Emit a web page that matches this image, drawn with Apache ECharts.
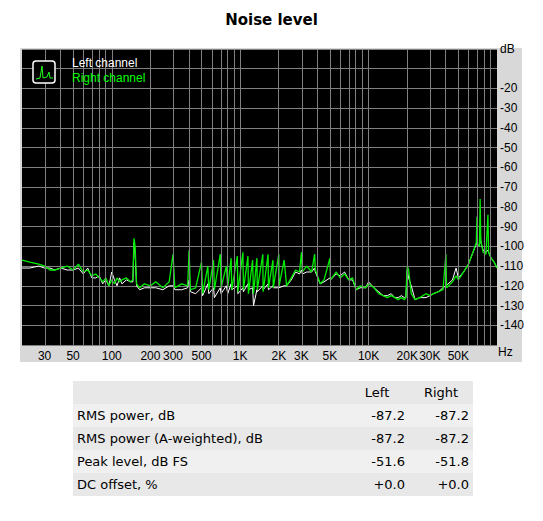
<!DOCTYPE html>
<html>
<head>
<meta charset="utf-8">
<script src="https://cdn.jsdelivr.net/npm/echarts@6/dist/echarts.min.js"></script>
<style>
  body { margin: 0; background: #fff; }
  #chart { position: absolute; left: 0; top: 0; width: 543px; height: 521px; }
  #stats { position: absolute; left: 73px; top: 381px; width: 400px; border-collapse: collapse;
           font-family: "DejaVu Sans", Verdana, sans-serif; font-size: 13px; color: #000; }
  #stats td { height: 23px; padding: 0 4px; }
  #stats td.num { text-align: right; width: 56px; }
  #stats tr:nth-child(odd) { background: #e8e8e8; }
  #stats tr:nth-child(even) { background: #f0f0f0; }
</style>
</head>
<body>
<div id="chart"></div>
<table id="stats"></table>
<script>
var freqs = [20,23,27,30,33,36,40,45,50,55,60,65,70,75,80,85,90,95,100,105,110,115,120,130,140,146,149,152,156,165,180,200,220,250,280,300,310,350,390,400,410,450,500,510,560,570,620,630,700,710,780,800,850,860,950,960,1050,1060,1150,1160,1250,1270,1350,1360,1500,1510,1650,1660,1800,1810,2000,2010,2200,2300,2500,2700,2900,3000,3050,3300,3600,3800,3850,4200,4500,5000,5050,5600,6000,6500,7000,7500,8000,8600,9500,10000,11000,12000,13000,14000,15000,16000,17000,18000,19000,19500,20000,20500,21500,23000,25000,28000,30000,32000,35000,38000,40000,40500,45000,48000,50000,55000,60000,65000,69000,69800,70500,73000,73900,74800,78000,82000,85000,86000,90000,95000,100000];
var rightDb = [-107,-108,-109,-110,-112,-112,-111,-110,-112,-109,-113,-112,-115,-114,-116,-118,-116,-120,-117,-119,-116,-118,-117,-116,-118,-117,-96,-100,-119,-121,-119,-120,-118,-121,-118,-104,-121,-119,-120,-102,-122,-121,-108,-124,-110,-122,-107,-122,-104,-121,-110,-121,-106,-122,-105,-123,-103,-122,-105,-124,-107,-124,-106,-122,-104,-123,-104,-121,-107,-121,-104,-120,-107,-120,-116,-112,-113,-103,-113,-110,-113,-104,-112,-119,-117,-106,-117,-113,-116,-114,-117,-116,-122,-120,-121,-119,-121,-124,-125,-126,-125,-126,-127,-126,-127,-126,-110,-112,-124,-127,-126,-124,-125,-124,-123,-122,-104,-121,-118,-115,-117,-113,-109,-103,-98,-85,-99,-100,-76,-97,-103,-104,-84,-103,-106,-108,-111];
var leftDb = [-111,-111,-110,-111,-111,-112,-111,-112,-112,-111,-114,-111,-116,-116,-115,-119,-117,-120,-113,-117,-120,-116,-119,-117,-118,-118,-98,-104,-120,-122,-121,-121,-121,-122,-120,-120,-122,-122,-121,-117,-123,-124,-121,-125,-119,-124,-121,-126,-121,-124,-120,-124,-119,-122,-120,-124,-121,-123,-119,-122,-121,-130,-122,-123,-120,-122,-119,-122,-120,-121,-121,-121,-120,-120,-117,-113,-114,-112,-114,-113,-113,-111,-113,-119,-118,-116,-117,-114,-115,-113,-117,-117,-122,-121,-121,-118,-121,-123,-125,-125,-124,-126,-126,-125,-126,-126,-112,-116,-120,-127,-126,-126,-125,-124,-123,-121,-120,-120,-117,-111,-116,-113,-109,-103,-99,-97,-99,-100,-90,-98,-102,-103,-102,-103,-106,-108,-111];
var tickFreqs = [30,50,100,200,300,500,1000,2000,3000,5000,10000,20000,30000,50000];
var gridFreqs = [];
[10,100,1000,10000].forEach(function (d) {
  for (var k = 1; k <= 9; k++) if (k * d >= 20) gridFreqs.push(k * d);
});
var tableRows = [
  ["RMS power, dB", "-87.2", "-87.2"],
  ["RMS power (A-weighted), dB", "-87.2", "-87.2"],
  ["Peak level, dB FS", "-51.6", "-51.8"],
  ["DC offset, %", "+0.0", "+0.0"]
];

function pairs(db) {
  return freqs.map(function (f, i) { return [Math.log10(f), db[i]]; });
}
function fmtHz(v) {
  var f = Math.round(Math.pow(10, v));
  return f >= 1000 ? (f / 1000) + "K" : String(f);
}

var chart = echarts.init(document.getElementById("chart"), null, {renderer: "svg"});
var font = "Liberation Sans";
chart.setOption({
  animation: false,
  title: {
    text: "Noise level", left: "center", top: 7,
    textStyle: {fontFamily: "DejaVu Sans", fontSize: 15, fontWeight: "bold", color: "#000"}
  },
  graphic: [
    {type: "rect", z: -10, shape: {x: 20, y: 48, width: 502, height: 314}, style: {fill: "#d8d8d8"}},
    {type: "rect", z: 10, shape: {x: 33, y: 61, width: 22, height: 22, r: 3}, style: {fill: "#000", stroke: "#fff", lineWidth: 1.5}},
    {type: "polyline", z: 11, shape: {points: [[36, 79], [40, 78], [42, 66], [43, 78], [47, 77], [49, 72], [50, 78], [53, 78]]}, style: {stroke: "#2f2", lineWidth: 1, fill: null}},
    {type: "text", z: 10, left: 72, top: 57, style: {text: "Left channel", fill: "#fff", font: "12px " + font}},
    {type: "text", z: 10, left: 72, top: 72, style: {text: "Right channel", fill: "#00ff00", font: "12px " + font}},
    {type: "text", z: 10, left: 498, top: 346, style: {text: "Hz", fill: "#000", font: "12px " + font}}
  ],
  grid: {left: 22, right: 46, top: 49, bottom: 176, backgroundColor: "#000", show: true, borderWidth: 0},
  xAxis: {
    type: "value", min: Math.log10(20), max: 5,
    axisLine: {show: false}, axisTick: {show: false}, splitLine: {show: false},
    axisLabel: {
      customValues: tickFreqs.map(function (f) { return Math.log10(f); }),
      formatter: fmtHz, color: "#000", fontFamily: font, fontSize: 12, margin: 5, hideOverlap: false
    }
  },
  yAxis: {
    type: "value", min: -150, max: 0, interval: 10, position: "right",
    axisLine: {show: false}, axisTick: {show: false},
    splitLine: {lineStyle: {color: "#808080", width: 1}},
    axisLabel: {
      color: "#000", fontFamily: font, fontSize: 12, margin: 3,
      formatter: function (v) {
        if (v === 0) return "dB";
        if (v <= -20 && v >= -140) return String(v);
        return "";
      }
    }
  },
  series: [
    {
      type: "line", data: pairs(leftDb), symbol: "none", z: 3,
      lineStyle: {color: "#ffffff", width: 1},
      markLine: {
        silent: true, symbol: "none", label: {show: false},
        lineStyle: {color: "#808080", type: "solid", width: 1},
        data: gridFreqs.map(function (f) { return {xAxis: Math.log10(f)}; })
      }
    },
    {
      type: "line", data: pairs(rightDb), symbol: "none", z: 4,
      lineStyle: {color: "#00ee00", width: 1.3}
    }
  ]
});

var html = '<tr><td></td><td class="num" style="text-align:center">Left</td><td class="num" style="text-align:center">Right</td></tr>';
tableRows.forEach(function (r) {
  html += "<tr><td>" + r[0] + '</td><td class="num">' + r[1] + '</td><td class="num">' + r[2] + "</td></tr>";
});
document.getElementById("stats").innerHTML = html;
</script>
</body>
</html>
